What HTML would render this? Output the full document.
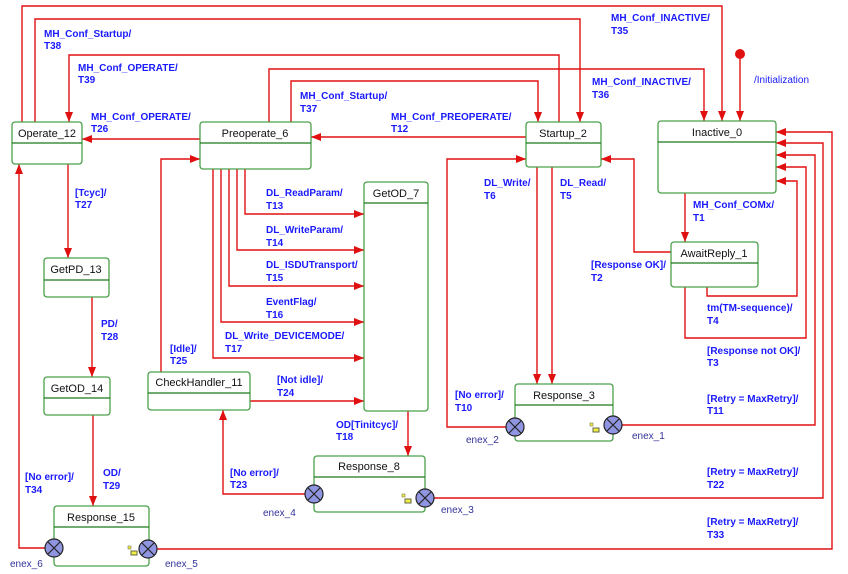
<!DOCTYPE html>
<html><head><meta charset="utf-8"><style>
body{margin:0;background:#fff}
svg{display:block}
.l{fill:#1a1aff;font:bold 10px "Liberation Sans",sans-serif}
.e{fill:#333399;font:10px "Liberation Sans",sans-serif}
.n{fill:#111;font:11px "Liberation Sans",sans-serif;text-anchor:middle}
.w{fill:none;stroke:#e01010;stroke-width:1.4}
.b{fill:#fff;stroke:#4aa04a;stroke-width:1.3}
.d{stroke:#1a7a1a;stroke-width:1.2}
.x{fill:#8f95e0;stroke:#222;stroke-width:1.2}
</style></head><body>
<svg width="848" height="574" viewBox="0 0 848 574" xmlns="http://www.w3.org/2000/svg">
<defs><marker id="a" markerWidth="10" markerHeight="8" refX="10" refY="4" orient="auto" markerUnits="userSpaceOnUse"><path d="M0,0L10,4L0,8z" fill="#e01010"/></marker></defs>
<g class="w" marker-end="url(#a)">
<polyline points="22,122 22,6 722,6 722,121"/>
<polyline points="35,122 35,19 580,19 580,122"/>
<polyline points="559,122 559,55 69,55 69,122"/>
<polyline points="269,122 269,69 704,69 704,121"/>
<polyline points="291,122 291,81 538,81 538,122"/>
<polyline points="526,137 311,137"/>
<polyline points="200,139 82,139"/>
<polyline points="740,54 740,121"/>
<polyline points="68,164 68,258"/>
<polyline points="92,297 92,377"/>
<polyline points="93,415 93,506"/>
<polyline points="45,548 19,548 19,164"/>
<polyline points="161,372 161,159 200,159"/>
<polyline points="245,169 245,214 364,214"/>
<polyline points="237,169 237,250 364,250"/>
<polyline points="229,169 229,286 364,286"/>
<polyline points="221,169 221,322 364,322"/>
<polyline points="213,169 213,358 364,358"/>
<polyline points="250,401 364,401"/>
<polyline points="408,411 408,456"/>
<polyline points="305,494 223,494 223,410"/>
<polyline points="434,498 823,498 823,143 776,143"/>
<polyline points="157,549 832,549 832,132 776,132"/>
<polyline points="622,425 815,425 815,155 776,155"/>
<polyline points="685,287 685,338 806,338 806,167 776,167"/>
<polyline points="707,287 707,296 797,296 797,181 776,181"/>
<polyline points="685,193 685,242"/>
<polyline points="671,252 634,252 634,159 601,159"/>
<polyline points="506,427 447,427 447,159 526,159"/>
<polyline points="537,167 537,384"/>
<polyline points="552,167 552,384"/>
</g>
<circle cx="740" cy="54" r="5" fill="#e01010"/>
<g>
<rect class="b" x="12" y="122" width="70" height="42" rx="3"/><line class="d" x1="12" y1="143" x2="82" y2="143"/><text class="n" x="47" y="137">Operate_12</text>
<rect class="b" x="200" y="122" width="111" height="47" rx="3"/><line class="d" x1="200" y1="143" x2="311" y2="143"/><text class="n" x="255" y="137">Preoperate_6</text>
<rect class="b" x="364" y="182" width="64" height="229" rx="3"/><line class="d" x1="364" y1="203" x2="428" y2="203"/><text class="n" x="396" y="197">GetOD_7</text>
<rect class="b" x="526" y="122" width="75" height="45" rx="3"/><line class="d" x1="526" y1="143" x2="601" y2="143"/><text class="n" x="563" y="137">Startup_2</text>
<rect class="b" x="658" y="121" width="118" height="72" rx="3"/><line class="d" x1="658" y1="142" x2="776" y2="142"/><text class="n" x="717" y="136">Inactive_0</text>
<rect class="b" x="671" y="242" width="87" height="45" rx="3"/><line class="d" x1="671" y1="263" x2="758" y2="263"/><text class="n" x="714" y="257">AwaitReply_1</text>
<rect class="b" x="44" y="258" width="65" height="39" rx="3"/><line class="d" x1="44" y1="280" x2="109" y2="280"/><text class="n" x="76" y="273">GetPD_13</text>
<rect class="b" x="44" y="377" width="66" height="38" rx="3"/><line class="d" x1="44" y1="398" x2="110" y2="398"/><text class="n" x="77" y="392">GetOD_14</text>
<rect class="b" x="148" y="372" width="102" height="38" rx="3"/><line class="d" x1="148" y1="393" x2="250" y2="393"/><text class="n" x="199" y="386">CheckHandler_11</text>
<rect class="b" x="314" y="456" width="111" height="56" rx="3"/><line class="d" x1="314" y1="477" x2="425" y2="477"/><text class="n" x="369" y="470">Response_8</text>
<rect class="b" x="54" y="506" width="95" height="60" rx="3"/><line class="d" x1="54" y1="527" x2="149" y2="527"/><text class="n" x="101" y="521">Response_15</text>
<rect class="b" x="515" y="384" width="98" height="57" rx="3"/><line class="d" x1="515" y1="405" x2="613" y2="405"/><text class="n" x="564" y="399">Response_3</text>
</g>
<g>
<g transform="translate(54,548)"><circle class="x" r="9"/><path d="M-6,-6L6,6M6,-6L-6,6" stroke="#222" stroke-width="1.2"/></g>
<g transform="translate(148,549)"><circle class="x" r="9"/><path d="M-6,-6L6,6M6,-6L-6,6" stroke="#222" stroke-width="1.2"/></g>
<g transform="translate(314,494)"><circle class="x" r="9"/><path d="M-6,-6L6,6M6,-6L-6,6" stroke="#222" stroke-width="1.2"/></g>
<g transform="translate(425,498)"><circle class="x" r="9"/><path d="M-6,-6L6,6M6,-6L-6,6" stroke="#222" stroke-width="1.2"/></g>
<g transform="translate(515,427)"><circle class="x" r="9"/><path d="M-6,-6L6,6M6,-6L-6,6" stroke="#222" stroke-width="1.2"/></g>
<g transform="translate(613,425)"><circle class="x" r="9"/><path d="M-6,-6L6,6M6,-6L-6,6" stroke="#222" stroke-width="1.2"/></g>
<rect x="131" y="551" width="6" height="4" fill="#ee4" stroke="#664"/><rect x="128" y="546" width="3" height="3" fill="#ee4" stroke="#664" stroke-width=".5"/>
<rect x="405" y="499" width="6" height="4" fill="#ee4" stroke="#664"/><rect x="402" y="494" width="3" height="3" fill="#ee4" stroke="#664" stroke-width=".5"/>
<rect x="593" y="428" width="6" height="4" fill="#ee4" stroke="#664"/><rect x="590" y="423" width="3" height="3" fill="#ee4" stroke="#664" stroke-width=".5"/>
</g>
<g class="l">
<text x="44" y="37">MH_Conf_Startup/</text><text x="44" y="49">T38</text>
<text x="78" y="71">MH_Conf_OPERATE/</text><text x="78" y="83">T39</text>
<text x="91" y="120">MH_Conf_OPERATE/</text><text x="91" y="132">T26</text>
<text x="300" y="99">MH_Conf_Startup/</text><text x="300" y="112">T37</text>
<text x="391" y="120">MH_Conf_PREOPERATE/</text><text x="391" y="132">T12</text>
<text x="611" y="21">MH_Conf_INACTIVE/</text><text x="611" y="34">T35</text>
<text x="592" y="85">MH_Conf_INACTIVE/</text><text x="592" y="98">T36</text>
<text x="754" y="83" style="font-weight:normal">/Initialization</text>
<text x="484" y="186">DL_Write/</text><text x="484" y="199">T6</text>
<text x="560" y="186">DL_Read/</text><text x="560" y="199">T5</text>
<text x="693" y="208">MH_Conf_COMx/</text><text x="693" y="221">T1</text>
<text x="591" y="268">[Response OK]/</text><text x="591" y="281">T2</text>
<text x="707" y="311">tm(TM-sequence)/</text><text x="707" y="324">T4</text>
<text x="707" y="354">[Response not OK]/</text><text x="707" y="366">T3</text>
<text x="707" y="402">[Retry = MaxRetry]/</text><text x="707" y="414">T11</text>
<text x="707" y="475">[Retry = MaxRetry]/</text><text x="707" y="488">T22</text>
<text x="707" y="525">[Retry = MaxRetry]/</text><text x="707" y="538">T33</text>
<text x="455" y="398">[No error]/</text><text x="455" y="411">T10</text>
<text x="266" y="196">DL_ReadParam/</text><text x="266" y="209">T13</text>
<text x="266" y="233">DL_WriteParam/</text><text x="266" y="246">T14</text>
<text x="266" y="268">DL_ISDUTransport/</text><text x="266" y="281">T15</text>
<text x="266" y="305">EventFlag/</text><text x="266" y="318">T16</text>
<text x="225" y="339">DL_Write_DEVICEMODE/</text><text x="225" y="352">T17</text>
<text x="170" y="352">[Idle]/</text><text x="170" y="364">T25</text>
<text x="277" y="383">[Not idle]/</text><text x="277" y="396">T24</text>
<text x="336" y="428">OD[Tinitcyc]/</text><text x="336" y="440">T18</text>
<text x="230" y="476">[No error]/</text><text x="230" y="488">T23</text>
<text x="75" y="196">[Tcyc]/</text><text x="75" y="208">T27</text>
<text x="101" y="327">PD/</text><text x="101" y="340">T28</text>
<text x="103" y="476">OD/</text><text x="103" y="489">T29</text>
<text x="25" y="480">[No error]/</text><text x="25" y="493">T34</text>
</g>
<g class="e">
<text x="10" y="567">enex_6</text><text x="165" y="567">enex_5</text>
<text x="263" y="516">enex_4</text><text x="441" y="513">enex_3</text>
<text x="466" y="443">enex_2</text><text x="632" y="439">enex_1</text>
</g>
</svg>
</body></html>
